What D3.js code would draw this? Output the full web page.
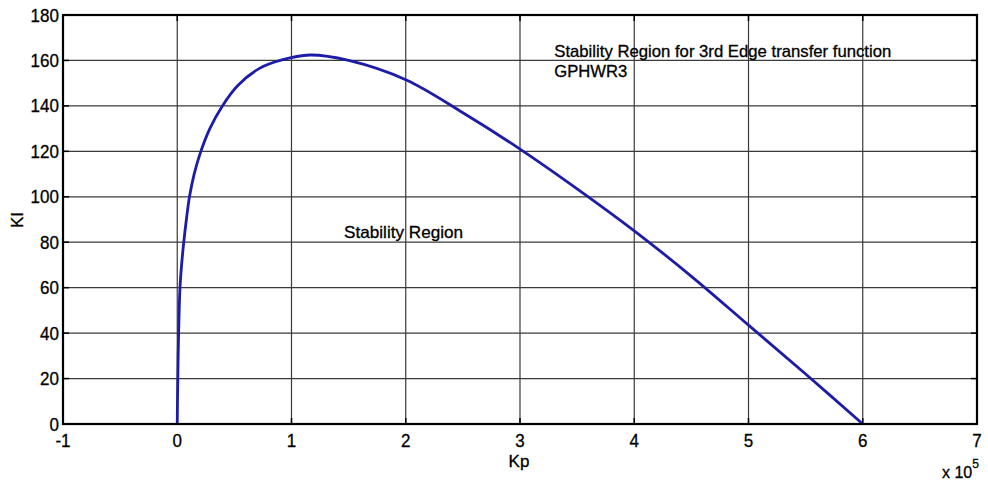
<!DOCTYPE html>
<html>
<head>
<meta charset="utf-8">
<script src="https://cdn.jsdelivr.net/npm/d3@7"></script>
<style>
  html, body { margin: 0; padding: 0; background: #fff; }
  svg { display: block; font-family: "Liberation Sans", Arial, sans-serif; }
  svg text { stroke: #000; stroke-width: 0.3px; }
</style>
</head>
<body>
<svg id="chart" width="988" height="484"></svg>
<script>
// Boundary of the stability region in the (Kp, KI) plane; Kp is in units of 1e5
const kpValues = [0, 0.002, 0.005, 0.008, 0.012, 0.017, 0.024, 0.038, 0.057, 0.08, 0.107, 0.148, 0.2, 0.285, 0.395, 0.53, 0.72, 0.9, 1.16, 1.5, 2.0, 2.5, 3.0, 3.5, 4.0, 4.5, 5.0, 5.5, 6.0];
const kiValues = [0, 10, 20, 30, 40, 50, 60, 70, 80, 90, 100, 110, 119, 130, 140, 149, 156.5, 160, 162.4, 160, 151.5, 137, 121, 103.5, 85, 65, 43.5, 22, 0];

const xTickValues = [-1, 0, 1, 2, 3, 4, 5, 6, 7];
const yTickValues = [0, 20, 40, 60, 80, 100, 120, 140, 160, 180];

const annotations = [
  { text: "Stability Region for 3rd Edge transfer function", kp: 3.3, ki: 161.5, width: 337 },
  { text: "GPHWR3", kp: 3.3, ki: 152.5, width: 73 },
  { text: "Stability Region", kp: 1.46, ki: 82, width: 119 }
];

const svg = d3.select("#chart");
const m = { left: 63, right: 977, top: 15, bottom: 424 };

const x = d3.scaleLinear().domain([-1, 7]).range([m.left, m.right]);
const y = d3.scaleLinear().domain([0, 180]).range([m.bottom, m.top]);

const tickFont = 18.5, tickScale = 0.92;

// grid
const grid = svg.append("g").attr("stroke", "#3a3a3a").attr("stroke-width", 1.2);
grid.selectAll("line.gx").data(xTickValues.slice(1, -1)).join("line")
  .attr("x1", d => x(d)).attr("x2", d => x(d))
  .attr("y1", m.top).attr("y2", m.bottom);
grid.selectAll("line.gy").data(yTickValues.slice(1, -1)).join("line")
  .attr("x1", m.left).attr("x2", m.right)
  .attr("y1", d => y(d)).attr("y2", d => y(d));

// inward tick marks on all four sides
const ticks = svg.append("g").attr("stroke", "#000").attr("stroke-width", 1.5);
xTickValues.forEach(d => {
  ticks.append("line").attr("x1", x(d)).attr("x2", x(d)).attr("y1", m.bottom).attr("y2", m.bottom - 6);
  ticks.append("line").attr("x1", x(d)).attr("x2", x(d)).attr("y1", m.top).attr("y2", m.top + 6);
});
yTickValues.forEach(d => {
  ticks.append("line").attr("x1", m.left).attr("x2", m.left + 6).attr("y1", y(d)).attr("y2", y(d));
  ticks.append("line").attr("x1", m.right).attr("x2", m.right - 6).attr("y1", y(d)).attr("y2", y(d));
});

// boundary curve
const line = d3.line()
  .x((d, i) => x(kpValues[i]))
  .y((d, i) => y(kiValues[i]))
  .curve(d3.curveCatmullRom.alpha(0.5));
svg.append("path")
  .datum(kpValues)
  .attr("d", line)
  .attr("fill", "none")
  .attr("stroke", "#1c1ca8")
  .attr("stroke-width", 2.8)
  .attr("stroke-linejoin", "round");

// frame
svg.append("rect")
  .attr("x", m.left).attr("y", m.top)
  .attr("width", m.right - m.left).attr("height", m.bottom - m.top)
  .attr("fill", "none").attr("stroke", "#000").attr("stroke-width", 2.2);

// tick labels
svg.append("g").selectAll("text").data(xTickValues).join("text")
  .attr("transform", d => `translate(${x(d)},${m.bottom + 23}) scale(${tickScale},1)`)
  .attr("text-anchor", "middle")
  .attr("font-size", tickFont)
  .attr("fill", "#000")
  .text(d => d);

svg.append("g").selectAll("text").data(yTickValues).join("text")
  .attr("transform", d => `translate(${m.left - 4},${y(d) + 6.5}) scale(${tickScale},1)`)
  .attr("text-anchor", "end")
  .attr("font-size", tickFont)
  .attr("fill", "#000")
  .text(d => d);

// axis titles
svg.append("text")
  .attr("x", 519).attr("y", 467)
  .attr("text-anchor", "middle")
  .attr("font-size", 17)
  .attr("fill", "#000")
  .text("Kp");

svg.append("text")
  .attr("transform", "translate(23,220) rotate(-90)")
  .attr("text-anchor", "middle")
  .attr("font-size", 17)
  .attr("fill", "#000")
  .text("KI");

// exponent of the Kp axis
const expo = svg.append("text")
  .attr("x", 942).attr("y", 478)
  .attr("font-size", 16)
  .attr("fill", "#000");
expo.append("tspan").text("x 10");
expo.append("tspan").attr("dy", -10).attr("font-size", 12).text("5");

// annotations
svg.append("g").selectAll("text").data(annotations).join("text")
  .attr("x", d => x(d.kp)).attr("y", d => y(d.ki))
  .attr("font-size", 16.5)
  .attr("fill", "#000")
  .attr("textLength", d => d.width)
  .attr("lengthAdjust", "spacingAndGlyphs")
  .text(d => d.text);
</script>
</body>
</html>
